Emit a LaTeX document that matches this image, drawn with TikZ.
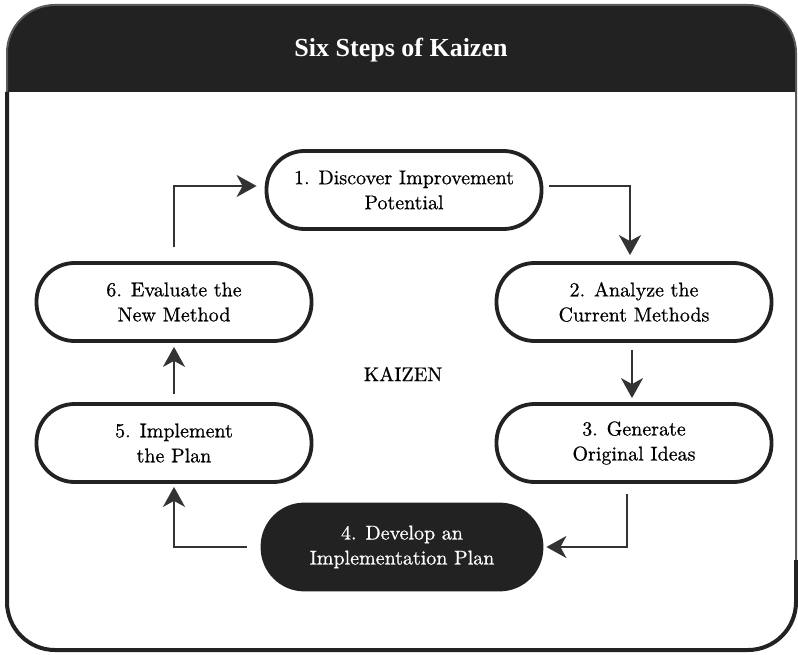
\documentclass[tikz,border=0pt]{standalone}
\usepackage{fontspec}
\usetikzlibrary{arrows.meta}
\newfontfamily\titlefont{Liberation Serif}
\newfontfamily\stepfont{lmroman10-regular}[Extension=.otf, FakeBold=0.6]
\definecolor{ink}{HTML}{222222}
\definecolor{wire}{HTML}{333333}
\begin{document}
\begin{tikzpicture}[x=1pt,y=-1pt,
  pill/.style={draw=ink, line width=3.8pt, fill=white, rounded corners=38pt,
    minimum width=275pt, minimum height=78pt, align=center, inner sep=0pt,
    font=\stepfont\fontsize{20}{25}\selectfont},
  darkpill/.style={pill, fill=ink, text=white, minimum width=279pt,
    minimum height=85pt, rounded corners=42pt},
  conn/.style={draw=wire, line width=2pt,
    -{Stealth[length=20pt, width=22pt, inset=6pt]}}]
\useasboundingbox (0,0) rectangle (798,655);

% frame with dark title band
\fill[white, rounded corners=48pt] (7,5) rectangle (796,650);
\begin{scope}
  \clip[rounded corners=48pt] (7,5) rectangle (796,650);
  \fill[ink] (0,0) rectangle (798,92);
\end{scope}
\draw[gray!70!black, line width=2pt, rounded corners=48pt] (7,5) rectangle (796,650);
\draw[ink, line width=4pt, rounded corners=48pt] (7,92) -- (7,650) -- (796,650) -- (796,560);

\node[text=white, font=\titlefont\bfseries\fontsize{26}{30}\selectfont] (title) at (401,50) {Six Steps of Kaizen};

% the six steps
\node[pill] (n1) at (404,190) {1. Discover Improvement\\Potential};
\node[pill] (n2) at (634,302) {2. Analyze the\\Current Methods};
\node[pill] (n3) at (634,443) {3. Generate\\Original Ideas};
\node[darkpill] (n4) at (402,547) {4. Develop an\\Implementation Plan};
\node[pill] (n5) at (174,443) {5. Implement\\the Plan};
\node[pill] (n6) at (174,302) {6. Evaluate the\\New Method};

\node[font=\stepfont\fontsize{20}{22}\selectfont] (kz) at (403,374) {KAIZEN};

% cycle of arrows
\draw[conn, shorten <=14pt, shorten >=8pt] (n6.north) |- ([yshift=4pt]n1.west);
\draw[conn, shorten <=6pt, shorten >=6pt] ([yshift=4pt]n1.east) -| ([xshift=-4pt]n2.north);
\draw[conn, shorten <=7pt, shorten >=4pt] ([xshift=-2pt]n2.south) -- ([xshift=-2pt]n3.north);
\draw[conn, shorten <=10pt, shorten >=3pt] ([xshift=-7pt]n3.south) |- (n4.east);
\draw[conn, shorten <=14pt, shorten >=3pt] (n4.west) -| (n5.south);
\draw[conn, shorten <=8pt, shorten >=4pt] (n5.north) -- (n6.south);
\end{tikzpicture}
\end{document}
